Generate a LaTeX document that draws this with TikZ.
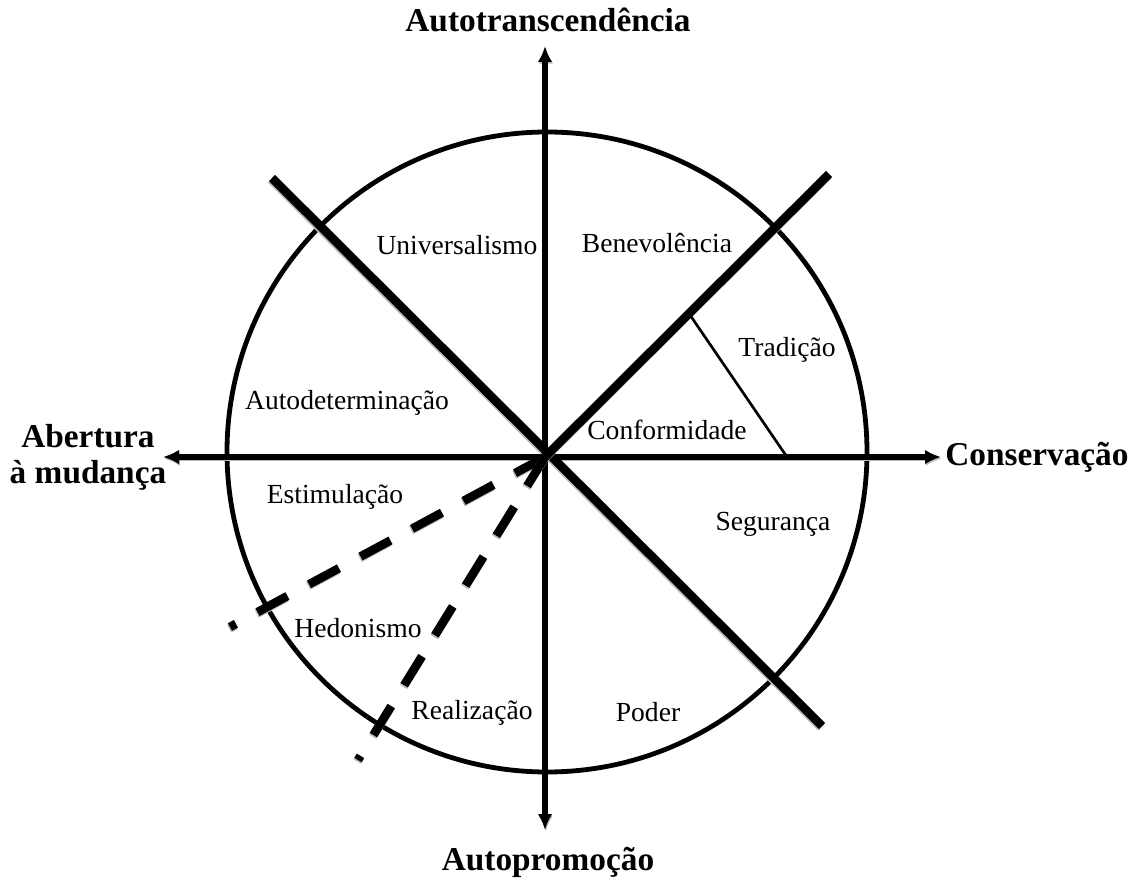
\documentclass[tikz,border=0pt]{standalone}
\usepackage{fontspec}
\setmainfont{Liberation Serif}
\usetikzlibrary{arrows.meta}
\begin{document}
\begin{tikzpicture}[x=0.75pt,y=-0.75pt,
  axisline/.style={line width=3.8pt,-{Latex[length=12pt,width=11pt]},
     preaction={draw=gray!55,line width=3.8pt,transform canvas={shift={(0.6pt,-1.2pt)}}}},
  thickline/.style={line width=6.5pt,
     preaction={draw=gray!55,line width=6.5pt,transform canvas={shift={(-0.6pt,-1.2pt)}}}},
  dashline/.style={line width=6.5pt,dash pattern=on 25.5pt off 18.4pt,
     preaction={draw=gray!55,line width=6.5pt,dash pattern=on 25.5pt off 18.4pt,transform canvas={shift={(-0.6pt,-1.2pt)}}}},
  thinline/.style={line width=2pt},
  ring/.style={circle,draw,line width=3.6pt,inner sep=0pt,minimum size=480pt},
  region/.style={font=\fontsize{20.7}{23}\selectfont,inner sep=0pt},
  pole/.style={font=\fontsize{25}{27}\selectfont\bfseries,inner sep=0pt,align=center}]
\useasboundingbox (0,0) rectangle (1136,884);
\node[ring] (C) at (547,452) {};
\coordinate (O) at (545,457);
\coordinate (N) at (545,46);
\coordinate (S) at (545,830);
\coordinate (W) at (163,457);
\coordinate (E) at (941,457);
\coordinate (NW) at (272,178);
\coordinate (SE) at (822,726);
\coordinate (NE) at (829,174);
\coordinate (T1) at (690,315);
\coordinate (T2) at (787,457);
\coordinate (D1) at (230,627);
\coordinate (D2) at (358,760);
\draw[axisline] (O) -- (N);
\draw[axisline] (O) -- (S);
\draw[axisline] (O) -- (W);
\draw[axisline] (O) -- (E);
\draw[thickline] (NW) -- (SE);
\draw[thickline] (O) -- (NE);
\draw[thinline] (T1) -- (T2);
\draw[dashline] (O) -- (D1);
\draw[dashline] (O) -- (D2);
\node[region] (uni) at (457,245) {Universalismo};
\node[region] (ben) at (657,243) {Benevolência};
\node[region] (tra) at (787,350) {Tradição};
\node[region] (aud) at (347,403) {Autodeterminação};
\node[region] (con) at (667,430) {Conformidade};
\node[region] (est) at (335,497) {Estimulação};
\node[region] (seg) at (773,524) {Segurança};
\node[region] (hed) at (358,628) {Hedonismo};
\node[region] (rea) at (472,713) {Realização};
\node[region] (pod) at (648,712) {Poder};
\node[pole] (pN) at (548,20) {Autotranscendência};
\node[pole] (pS) at (548,862) {Autopromoção};
\node[pole] (pW) at (88,457) {Abertura\\à mudança};
\node[pole,anchor=west] (pE) at (945,457) {Conservação};
\end{tikzpicture}
\end{document}
